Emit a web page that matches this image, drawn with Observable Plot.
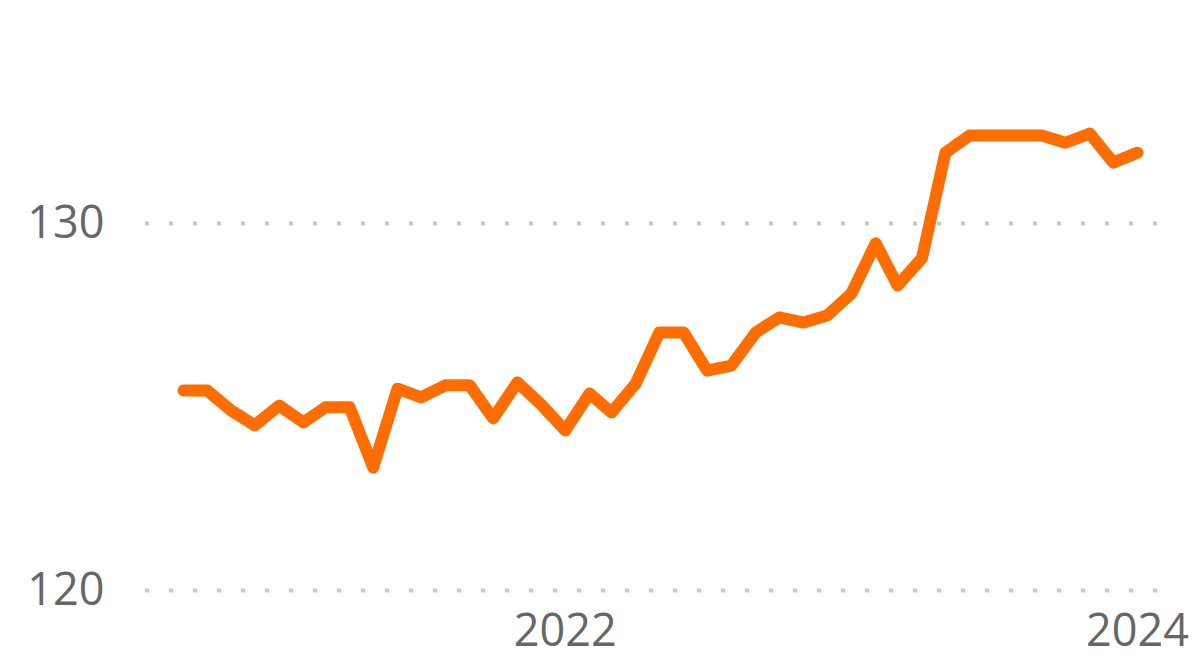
<!DOCTYPE html>
<html>
<head>
<meta charset="utf-8">
<script src="https://cdn.jsdelivr.net/npm/d3@7"></script>
<script src="https://cdn.jsdelivr.net/npm/@observablehq/plot@0.6"></script>
<style>
  html, body { margin: 0; padding: 0; background: #fff; }
  #chart svg { display: block; }
</style>
</head>
<body>
<div id="chart"></div>
<script>
// Monthly index, Sep 2020 – Jan 2024
const startMonth = "2020-09";
const values = [
  125.45, 125.45, 124.9, 124.5, 125.04, 124.58, 124.99, 124.99, 123.35, 125.5,
  125.26, 125.59, 125.59, 124.69, 125.67, 125.07, 124.36, 125.37, 124.85, 125.64,
  127.03, 127.03, 125.99, 126.13, 127.03, 127.44, 127.3, 127.49, 128.09, 129.46,
  128.31, 129.05, 131.93, 132.4, 132.4, 132.4, 132.4, 132.2, 132.45, 131.66,
  131.93
];
const yTicks = [120, 130];
const xTickLabels = ["2022", "2024"];

const start = d3.utcParse("%Y-%m")(startMonth);
const data = values.map((v, i) => ({ date: d3.utcMonth.offset(start, i), value: v }));
const xTicks = xTickLabels.map(s => d3.utcParse("%Y")(s));

const chart = Plot.plot({
  width: 1194,
  height: 659,
  marginLeft: 145,
  marginRight: 34,
  marginTop: 0,
  marginBottom: 69,
  insetLeft: 38,
  insetRight: 23,
  style: { fontFamily: "'Open Sans', sans-serif", background: "#fff" },
  x: { type: "utc", domain: d3.extent(data, d => d.date) },
  y: { domain: [120, 120 + 590 / 36.7] },
  marks: [
    Plot.gridY(yTicks, { stroke: "#c8c8c8", strokeOpacity: 1, strokeWidth: 4, strokeDasharray: "4,20" }),
    Plot.axisY(yTicks, { tickSize: 0, tickPadding: 41, fontSize: 45, fill: "#666", label: null }),
    Plot.axisX(xTicks, { tickSize: 0, tickPadding: 24, fontSize: 45, fill: "#666", label: null, tickFormat: d3.utcFormat("%Y") }),
    Plot.line(data, { x: "date", y: "value", stroke: "#ff6d00", strokeWidth: 12, strokeLinejoin: "round", strokeLinecap: "round" })
  ]
});
document.getElementById("chart").appendChild(chart);
</script>
</body>
</html>
